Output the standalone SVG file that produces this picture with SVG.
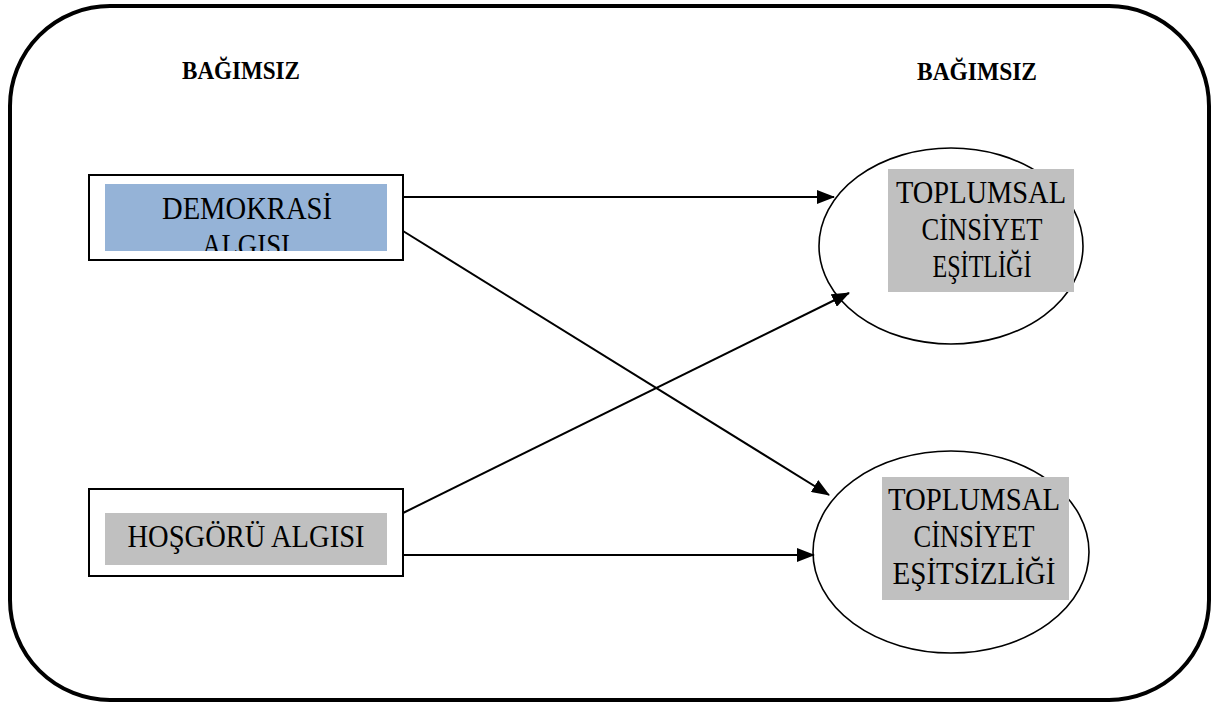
<svg xmlns="http://www.w3.org/2000/svg" width="1213" height="706" viewBox="0 0 1213 706">
<style>
.frame{fill:none;stroke:#000;stroke-width:4}
.box{fill:#fff;stroke:#000;stroke-width:2}
.ell{fill:#fff;stroke:#000;stroke-width:1.6}
.lbl{font-family:"Liberation Serif","Times New Roman",serif;font-size:32px;fill:#000;text-anchor:middle}
.ttl{font-family:"Liberation Serif","Times New Roman",serif;font-size:25px;font-weight:bold;fill:#000}
.conn{stroke:#000;stroke-width:2;fill:none;marker-end:url(#ah)}
</style>
<defs>
<marker id="ah" markerWidth="18" markerHeight="14" refX="17" refY="7" orient="auto" markerUnits="userSpaceOnUse">
<path d="M0,0 L18,7 L0,14 Z" fill="#000"/>
</marker>
<clipPath id="clipDem"><rect x="105" y="184" width="282" height="67"/></clipPath>
</defs>
<rect class="frame" x="10" y="6" width="1199" height="694" rx="100" ry="100"/>
<text class="ttl" x="182" y="79" textLength="118" lengthAdjust="spacingAndGlyphs">BAĞIMSIZ</text>
<text class="ttl" x="917" y="80" textLength="120" lengthAdjust="spacingAndGlyphs">BAĞIMSIZ</text>
<g id="node-demokrasi">
<rect class="box" x="89" y="175" width="314" height="85"/>
<rect x="105" y="184" width="282" height="67" fill="#95b3d7"/>
<g clip-path="url(#clipDem)">
<text class="lbl" x="247" y="219" textLength="170" lengthAdjust="spacingAndGlyphs">DEMOKRASİ</text>
<text class="lbl" x="246" y="256" textLength="88" lengthAdjust="spacingAndGlyphs">ALGISI</text>
</g>
</g>
<g id="node-hosgoru">
<rect class="box" x="89" y="489" width="314" height="87"/>
<rect x="105" y="513" width="282" height="52" fill="#c0c0c0"/>
<text class="lbl" x="246" y="547" textLength="237" lengthAdjust="spacingAndGlyphs">HOŞGÖRÜ ALGISI</text>
</g>
<g id="node-esitlik">
<ellipse class="ell" cx="951" cy="246" rx="132" ry="98"/>
<rect x="888" y="169" width="186" height="123" fill="#c0c0c0"/>
<text class="lbl" x="981" y="203" textLength="170" lengthAdjust="spacingAndGlyphs">TOPLUMSAL</text>
<text class="lbl" x="982" y="240" textLength="121" lengthAdjust="spacingAndGlyphs">CİNSİYET</text>
<text class="lbl" x="982" y="277" textLength="99" lengthAdjust="spacingAndGlyphs">EŞİTLİĞİ</text>
</g>
<g id="node-esitsizlik">
<ellipse class="ell" cx="951" cy="552" rx="138" ry="101"/>
<rect x="882" y="477" width="187" height="123" fill="#c0c0c0"/>
<text class="lbl" x="974" y="510" textLength="172" lengthAdjust="spacingAndGlyphs">TOPLUMSAL</text>
<text class="lbl" x="974" y="547" textLength="121" lengthAdjust="spacingAndGlyphs">CİNSİYET</text>
<text class="lbl" x="974" y="584" textLength="163" lengthAdjust="spacingAndGlyphs">EŞİTSİZLİĞİ</text>
</g>
<g id="connectors">
<line class="conn" x1="403" y1="197" x2="834" y2="197"/>
<line class="conn" x1="403" y1="231" x2="829" y2="495"/>
<line class="conn" x1="403" y1="513" x2="849" y2="293"/>
<line class="conn" x1="403" y1="555" x2="814" y2="555"/>
</g>
</svg>
